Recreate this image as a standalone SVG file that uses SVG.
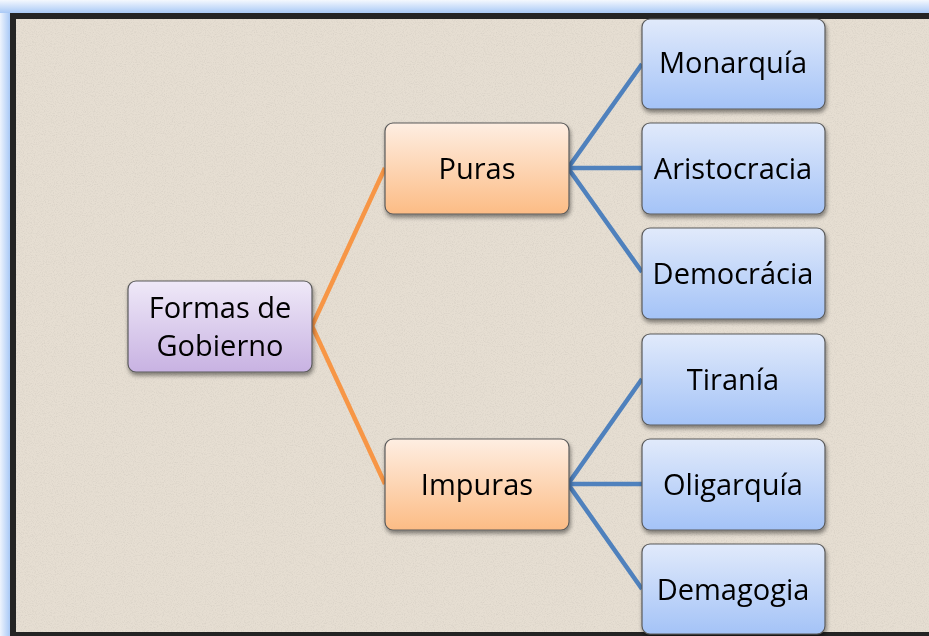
<svg xmlns="http://www.w3.org/2000/svg" width="929" height="636" viewBox="0 0 929 636">
<defs>
<linearGradient id="gPurple" x1="0" y1="0" x2="0" y2="1"><stop offset="0" stop-color="#efe9f8"/><stop offset="1" stop-color="#c8b2e2"/></linearGradient>
<linearGradient id="gOrange" x1="0" y1="0" x2="0" y2="1"><stop offset="0" stop-color="#feeee2"/><stop offset="1" stop-color="#fcbc85"/></linearGradient>
<linearGradient id="gBlue" x1="0" y1="0" x2="0" y2="1"><stop offset="0" stop-color="#e1eafb"/><stop offset="1" stop-color="#a4c3f7"/></linearGradient>
<linearGradient id="glowL" x1="0" y1="0" x2="1" y2="0"><stop offset="0" stop-color="#eef4fd"/><stop offset="1" stop-color="#a9c9f6"/></linearGradient>
<linearGradient id="glowT" x1="0" y1="0" x2="0" y2="1"><stop offset="0" stop-color="#f4f8fe"/><stop offset="1" stop-color="#a9c9f6"/></linearGradient>
<filter id="shadow" x="-10%" y="-10%" width="125%" height="130%">
<feGaussianBlur in="SourceAlpha" stdDeviation="2"/>
<feOffset dx="1" dy="3" result="b"/>
<feComponentTransfer><feFuncA type="linear" slope="0.45"/></feComponentTransfer>
<feMerge><feMergeNode/><feMergeNode in="SourceGraphic"/></feMerge>
</filter>
<filter id="noise" x="0" y="0" width="100%" height="100%">
<feTurbulence type="fractalNoise" baseFrequency="0.9" numOctaves="2" seed="3" result="t"/>
<feColorMatrix in="t" type="matrix" values="0 0 0 0 0.45  0 0 0 0 0.42  0 0 0 0 0.38  0 0 0 -1.6 0.9" result="n"/>
<feComposite in="n" in2="SourceGraphic" operator="in"/>
</filter>
</defs>
<style>
.node rect{stroke:#5a5a5a;stroke-width:1.2}
.node text{font-family:"Open Sans","Noto Sans","Liberation Sans",sans-serif;font-size:29px;fill:#000;text-anchor:middle;dominant-baseline:central}
.orange{stroke:#f79646;stroke-width:4.5;fill:none}
.blue{stroke:#4f81bd;stroke-width:4.5;fill:none}
</style>
<!-- frame -->
<rect x="0" y="0" width="929" height="636" fill="#a9c9f6"/>
<rect x="0" y="0" width="10" height="636" fill="url(#glowL)"/>
<rect x="0" y="0" width="929" height="13" fill="url(#glowT)"/>
<rect x="10" y="13" width="930" height="640" fill="#242424"/>
<rect x="16" y="19" width="913" height="613" fill="#e6ded2"/>
<rect x="16" y="19" width="913" height="613" fill="#e6ded2" filter="url(#noise)" opacity="0.35"/>
<g id="connectors">
<polyline class="orange" points="385,168 312,326 385,484"/>
<polyline class="blue" points="642,64 568,168 642,272"/>
<line class="blue" x1="568" y1="168" x2="642" y2="168"/>
<polyline class="blue" points="642,379 568,484 642,589"/>
<line class="blue" x1="568" y1="484" x2="642" y2="484"/>
</g>
<g id="formas" class="node" filter="url(#shadow)">
<rect x="128" y="281" width="184" height="91" rx="8" fill="url(#gPurple)"/>
<text x="220" y="306">Formas de</text>
<text x="220" y="344">Gobierno</text>
</g>
<g id="puras" class="node" filter="url(#shadow)">
<rect x="385" y="123" width="184" height="91" rx="8" fill="url(#gOrange)"/>
<text x="477" y="167">Puras</text>
</g>
<g id="impuras" class="node" filter="url(#shadow)">
<rect x="385" y="439" width="184" height="91" rx="8" fill="url(#gOrange)"/>
<text x="477" y="483">Impuras</text>
</g>
<g id="monarquia" class="node" filter="url(#shadow)">
<rect x="642" y="19" width="183" height="90" rx="8" fill="url(#gBlue)"/>
<text x="733" y="61">Monarquía</text>
</g>
<g id="aristocracia" class="node" filter="url(#shadow)">
<rect x="642" y="123" width="183" height="91" rx="8" fill="url(#gBlue)"/>
<text x="733" y="167">Aristocracia</text>
</g>
<g id="democracia" class="node" filter="url(#shadow)">
<rect x="642" y="228" width="183" height="91" rx="8" fill="url(#gBlue)"/>
<text x="733" y="272">Democrácia</text>
</g>
<g id="tirania" class="node" filter="url(#shadow)">
<rect x="642" y="334" width="183" height="91" rx="8" fill="url(#gBlue)"/>
<text x="733" y="378">Tiranía</text>
</g>
<g id="oligarquia" class="node" filter="url(#shadow)">
<rect x="642" y="439" width="183" height="91" rx="8" fill="url(#gBlue)"/>
<text x="733" y="483">Oligarquía</text>
</g>
<g id="demagogia" class="node" filter="url(#shadow)">
<rect x="642" y="544" width="183" height="90" rx="8" fill="url(#gBlue)"/>
<text x="733" y="588">Demagogia</text>
</g>
</svg>
